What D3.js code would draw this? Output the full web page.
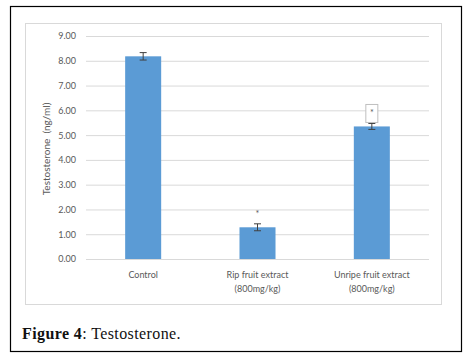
<!DOCTYPE html>
<html>
<head>
<meta charset="utf-8">
<script src="https://cdn.jsdelivr.net/npm/d3@7"></script>
<style>
  body { margin: 0; background: #fff; }
  svg { display: block; }
</style>
</head>
<body>
<div id="chart"></div>
<script>
// Data
const groups = ['Control', 'Rip fruit extract', 'Unripe fruit extract'];
const groupSub = ['', '(800mg/kg)', '(800mg/kg)'];
const means = [8.18, 1.28, 5.35];
const errors = [0.15, 0.14, 0.12];
const starred = [false, true, true];
const yTicks = [0, 1, 2, 3, 4, 5, 6, 7, 8, 9];

const W = 468, H = 358;
const margin = { top: 36, right: 39, bottom: 99, left: 86 };
const width = W - margin.left - margin.right;
const height = H - margin.top - margin.bottom;

const svg = d3.select('#chart').append('svg')
    .attr('width', W).attr('height', H);

// outer figure frame
svg.append('rect')
    .attr('x', 10.5).attr('y', 6.5)
    .attr('width', 451).attr('height', 345)
    .attr('fill', 'none').attr('stroke', '#000').attr('stroke-width', 1.2);

// chart area frame
svg.append('rect')
    .attr('x', 25.5).attr('y', 23.5)
    .attr('width', 416).attr('height', 281)
    .attr('fill', 'none').attr('stroke', '#d9d9d9').attr('stroke-width', 1);

const chart = svg.append('g')
    .attr('transform', `translate(${margin.left},${margin.top})`);

const x = d3.scaleBand().domain(groups).range([0, width])
    .paddingInner(0.685).paddingOuter(0.3425);
const y = d3.scaleLinear().domain([0, 9]).range([height, 0]);

// grid lines
chart.append('g')
    .call(d3.axisLeft(y).tickValues(yTicks).tickSize(-width).tickFormat(d => d.toFixed(2)).tickPadding(10))
    .call(ax => {
        ax.select('.domain').remove();
        ax.selectAll('line').attr('stroke', '#d9d9d9');
        ax.selectAll('text').attr('fill', '#595959').attr('font-size', '9px')
            .attr('font-family', 'Lato, "Open Sans", sans-serif');
    });

// bars
chart.selectAll('.bar')
    .data(groups)
    .join('rect')
        .attr('class', 'bar')
        .attr('x', d => x(d))
        .attr('y', (d, i) => y(means[i]))
        .attr('width', x.bandwidth())
        .attr('height', (d, i) => height - y(means[i]))
        .attr('fill', '#5b9bd5');

// error bars
const eb = chart.selectAll('.err')
    .data(groups)
    .join('g')
        .attr('class', 'err')
        .attr('transform', d => `translate(${x(d) + x.bandwidth() / 2},0)`);
eb.append('line')
    .attr('y1', (d, i) => y(means[i] + errors[i]))
    .attr('y2', (d, i) => y(means[i] - errors[i]));
eb.append('line')
    .attr('x1', -3.5).attr('x2', 3.5)
    .attr('y1', (d, i) => y(means[i] + errors[i]))
    .attr('y2', (d, i) => y(means[i] + errors[i]));
eb.append('line')
    .attr('x1', -3.5).attr('x2', 3.5)
    .attr('y1', (d, i) => y(means[i] - errors[i]))
    .attr('y2', (d, i) => y(means[i] - errors[i]));
eb.selectAll('line').attr('stroke', '#404040').attr('stroke-width', 1);

// significance markers
const stars = chart.selectAll('.star')
    .data(groups.filter((d, i) => starred[i]))
    .join('g')
        .attr('class', 'star')
        .attr('transform', d => {
            const i = groups.indexOf(d);
            return `translate(${x(d) + x.bandwidth() / 2},${y(means[i] + errors[i]) - 12})`;
        });
stars.filter(d => d === groups[2]).append('rect')
    .attr('x', -6).attr('y', -7).attr('width', 12).attr('height', 18)
    .attr('fill', '#fff').attr('stroke', '#bfbfbf');
stars.append('text')
    .attr('text-anchor', 'middle')
    .attr('y', 5)
    .attr('fill', '#595959')
    .attr('font-size', '9px')
    .attr('font-family', 'Lato, sans-serif')
    .text('*');

// category labels
const xl = chart.selectAll('.xlab')
    .data(groups)
    .join('text')
        .attr('class', 'xlab')
        .attr('x', d => x(d) + x.bandwidth() / 2)
        .attr('y', height + 19)
        .attr('text-anchor', 'middle')
        .attr('fill', '#595959')
        .attr('font-size', '9px')
        .attr('font-family', 'Lato, "Open Sans", sans-serif');
xl.append('tspan').text(d => d);
xl.append('tspan')
    .attr('x', d => x(d) + x.bandwidth() / 2)
    .attr('dy', 14)
    .text((d, i) => groupSub[i]);

// y axis title
svg.append('text')
    .attr('transform', 'translate(50,149) rotate(-90)')
    .attr('text-anchor', 'middle')
    .attr('fill', '#595959')
    .attr('font-size', '10px')
    .attr('font-family', 'Lato, "Open Sans", sans-serif')
    .attr('xml:space', 'preserve')
    .text('Testosterone  (ng/ml)');

// caption
const cap = svg.append('text')
    .attr('x', 22).attr('y', 339)
    .attr('font-size', '16px')
    .attr('font-family', '"Liberation Serif", "DejaVu Serif", serif')
    .attr('fill', '#111')
    .attr('letter-spacing', '0.4px');
cap.append('tspan').attr('font-weight', 'bold').text('Figure 4');
cap.append('tspan').text(': Testosterone.');
</script>
</body>
</html>
